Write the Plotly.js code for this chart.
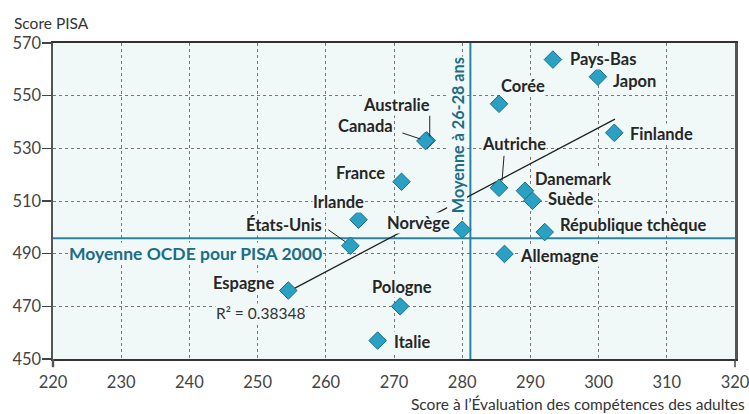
<!DOCTYPE html>
<html>
<head>
<meta charset="utf-8">
<script src="https://cdn.plot.ly/plotly-3.0.1.min.js"></script>
<style>html,body{margin:0;padding:0;background:#fff;}#chart{width:749px;height:414px;}</style>
</head>
<body>
<div id="chart"></div>
<script>
// ---- Data ----
const countries = ['Pays-Bas','Japon','Corée','Australie','Canada','Finlande','France','Autriche','Danemark','Suède','Irlande','États-Unis','Norvège','République tchèque','Allemagne','Espagne','Pologne','Italie'];
const adultScore = [293.3, 299.9, 285.4, 274.8, 274.6, 302.3, 271.1, 285.4, 289.2, 290.3, 264.8, 263.6, 280.0, 292.1, 286.2, 254.5, 270.9, 267.6];
const pisaScore  = [563.7, 557.2, 546.9, 533.0, 532.8, 535.9, 517.3, 515.0, 513.9, 510.1, 502.9, 493.0, 499.1, 498.2, 489.9, 476.0, 470.0, 457.0];
const trendX = [254.5, 302.4];
const trendY = [475.6, 541.1];
const rSquared = '0.38348';
const meanAdult = 281.2;   // Moyenne à 26-28 ans
const meanPisa = 495.9;    // Moyenne OCDE pour PISA 2000
const xRange = [220, 320];
const yRange = [450, 570];

// ---- Label placement (pixel offsets from each point) ----
const labelPos = {
  'Pays-Bas': {a:'left', dx:16, dy:1},
  'Japon': {a:'left', dx:14, dy:-4},
  'Corée': {a:'center', dx:24, dy:18},
  'Australie': {a:'right', dx:4, dy:35},
  'Canada': {a:'right', dx:-31, dy:15},
  'Finlande': {a:'left', dx:15, dy:-1},
  'France': {a:'right', dx:-16, dy:9},
  'Autriche': {a:'center', dx:14.5, dy:44},
  'Danemark': {a:'left', dx:9, dy:12},
  'Suède': {a:'left', dx:15, dy:2},
  'Irlande': {a:'right', dx:6, dy:18},
  'États-Unis': {a:'right', dx:-27, dy:21},
  'Norvège': {a:'right', dx:-11, dy:7},
  'République tchèque': {a:'left', dx:14, dy:7},
  'Allemagne': {a:'left', dx:15, dy:-2},
  'Espagne': {a:'right', dx:-13, dy:8},
  'Pologne': {a:'center', dx:2, dy:19},
  'Italie': {a:'left', dx:15, dy:-1}
};
const leaders = {
  'Australie': [3, 25, 3, 4],
  'Canada': [-23, 8, -5, 2],
  'Autriche': [5, 32, 3, 7],
  'États-Unis': [-22, 16, -5, 4]
};

const FONT = 'Lato, "Open Sans", sans-serif';
const TEAL = '#1a6e86';
const BG = '#f1f8f8';

const traces = [
  {x: [meanAdult, meanAdult], y: yRange, mode: 'lines', line: {color: '#2a84a0', width: 2}, hoverinfo: 'skip', showlegend: false},
  {x: xRange, y: [meanPisa, meanPisa], mode: 'lines', line: {color: '#2a84a0', width: 2}, hoverinfo: 'skip', showlegend: false},
  {x: trendX, y: trendY, mode: 'lines', line: {color: '#222', width: 1.3}, hoverinfo: 'skip', showlegend: false},
  {x: adultScore, y: pisaScore, text: countries, mode: 'markers', type: 'scatter',
   marker: {symbol: 'diamond', size: 13.5, color: '#2aa0c2', line: {color: '#1b6f88', width: 1}},
   showlegend: false}
];

const annotations = countries.map((c, i) => {
  const p = labelPos[c];
  return {x: adultScore[i], y: pisaScore[i], xref: 'x', yref: 'y', text: c, showarrow: false,
    xanchor: p.a, yanchor: 'middle', xshift: p.dx, yshift: p.dy,
    font: {family: FONT, size: 16.5, color: '#262626', weight: 'bold'}, bgcolor: BG, borderpad: 0};
});
annotations.push({x: trendX[0], y: trendY[0], xref: 'x', yref: 'y', text: 'R² = ' + rSquared, showarrow: false,
  xanchor: 'center', yanchor: 'middle', xshift: -27.5, yshift: -21,
  font: {family: FONT, size: 15.5, color: '#333'}, bgcolor: BG, borderpad: 0});
annotations.push({x: meanAdult, y: 0.708, xref: 'x', yref: 'paper', text: 'Moyenne à 26-28 ans', textangle: -90,
  showarrow: false, xanchor: 'center', yanchor: 'middle', xshift: -13.5,
  font: {family: FONT, size: 16.2, color: TEAL, weight: 'bold'}, bgcolor: BG, borderpad: 0});
annotations.push({x: 0.209, y: meanPisa, xref: 'paper', yref: 'y', text: 'Moyenne OCDE pour PISA 2000',
  showarrow: false, xanchor: 'center', yanchor: 'middle', yshift: -15.7,
  font: {family: FONT, size: 17.5, color: TEAL, weight: 'bold'}, bgcolor: BG, borderpad: 0});
annotations.push({x: -0.06, y: 1.063, xref: 'paper', yref: 'paper', text: 'Score PISA', showarrow: false,
  xanchor: 'left', yanchor: 'middle', font: {family: FONT, size: 15.5, color: '#333'}});
annotations.push({x: 1.0176, y: -0.142, xref: 'paper', yref: 'paper', text: 'Score à l’Évaluation des compétences des adultes',
  showarrow: false, xanchor: 'right', yanchor: 'middle', font: {family: FONT, size: 15.5, color: '#333'}});

const shapes = [];
Object.keys(leaders).forEach(c => {
  const i = countries.indexOf(c);
  const L = leaders[c];
  shapes.push({type: 'line', xref: 'x', yref: 'y', xsizemode: 'pixel', ysizemode: 'pixel',
    xanchor: adultScore[i], yanchor: pisaScore[i], x0: L[0], y0: L[1], x1: L[2], y1: L[3],
    line: {color: '#222', width: 1}, layer: 'above'});
});
// frame extensions below the x axis
shapes.push({type: 'line', xref: 'paper', yref: 'paper', x0: 0, x1: 0, y0: 0, y1: -0.026, line: {color: '#555', width: 2.5}});
shapes.push({type: 'line', xref: 'paper', yref: 'paper', x0: 1, x1: 1, y0: 0, y1: -0.026, line: {color: '#444', width: 1.5}});

const layout = {
  width: 749, height: 414,
  margin: {l: 53, r: 14, t: 43, b: 55},
  paper_bgcolor: '#ffffff', plot_bgcolor: BG,
  font: {family: FONT, size: 15, color: '#333'},
  xaxis: {range: xRange, dtick: 10, tick0: 220, showgrid: true, gridcolor: '#777', griddash: '3px,3px', gridwidth: 1,
    showline: true, linecolor: '#333', linewidth: 2, mirror: true, ticks: '', zeroline: false, ticklabeloverflow: 'allow',
    ticklabelstandoff: 7, tickfont: {family: FONT, size: 16.5, color: '#444'}, fixedrange: true},
  yaxis: {range: yRange, dtick: 20, tick0: 450, showgrid: true, gridcolor: '#777', griddash: '3px,3px', gridwidth: 1,
    showline: true, linecolor: '#555', linewidth: 2.5, mirror: true, ticks: 'outside', ticklen: 9, tickcolor: '#444', tickwidth: 1.5,
    zeroline: false, ticklabelstandoff: -3, tickfont: {family: FONT, size: 16.5, color: '#444'}, fixedrange: true},
  annotations: annotations,
  shapes: shapes,
  hovermode: false
};

Plotly.newPlot('chart', traces, layout, {displayModeBar: false, staticPlot: true});
</script>
</body>
</html>
